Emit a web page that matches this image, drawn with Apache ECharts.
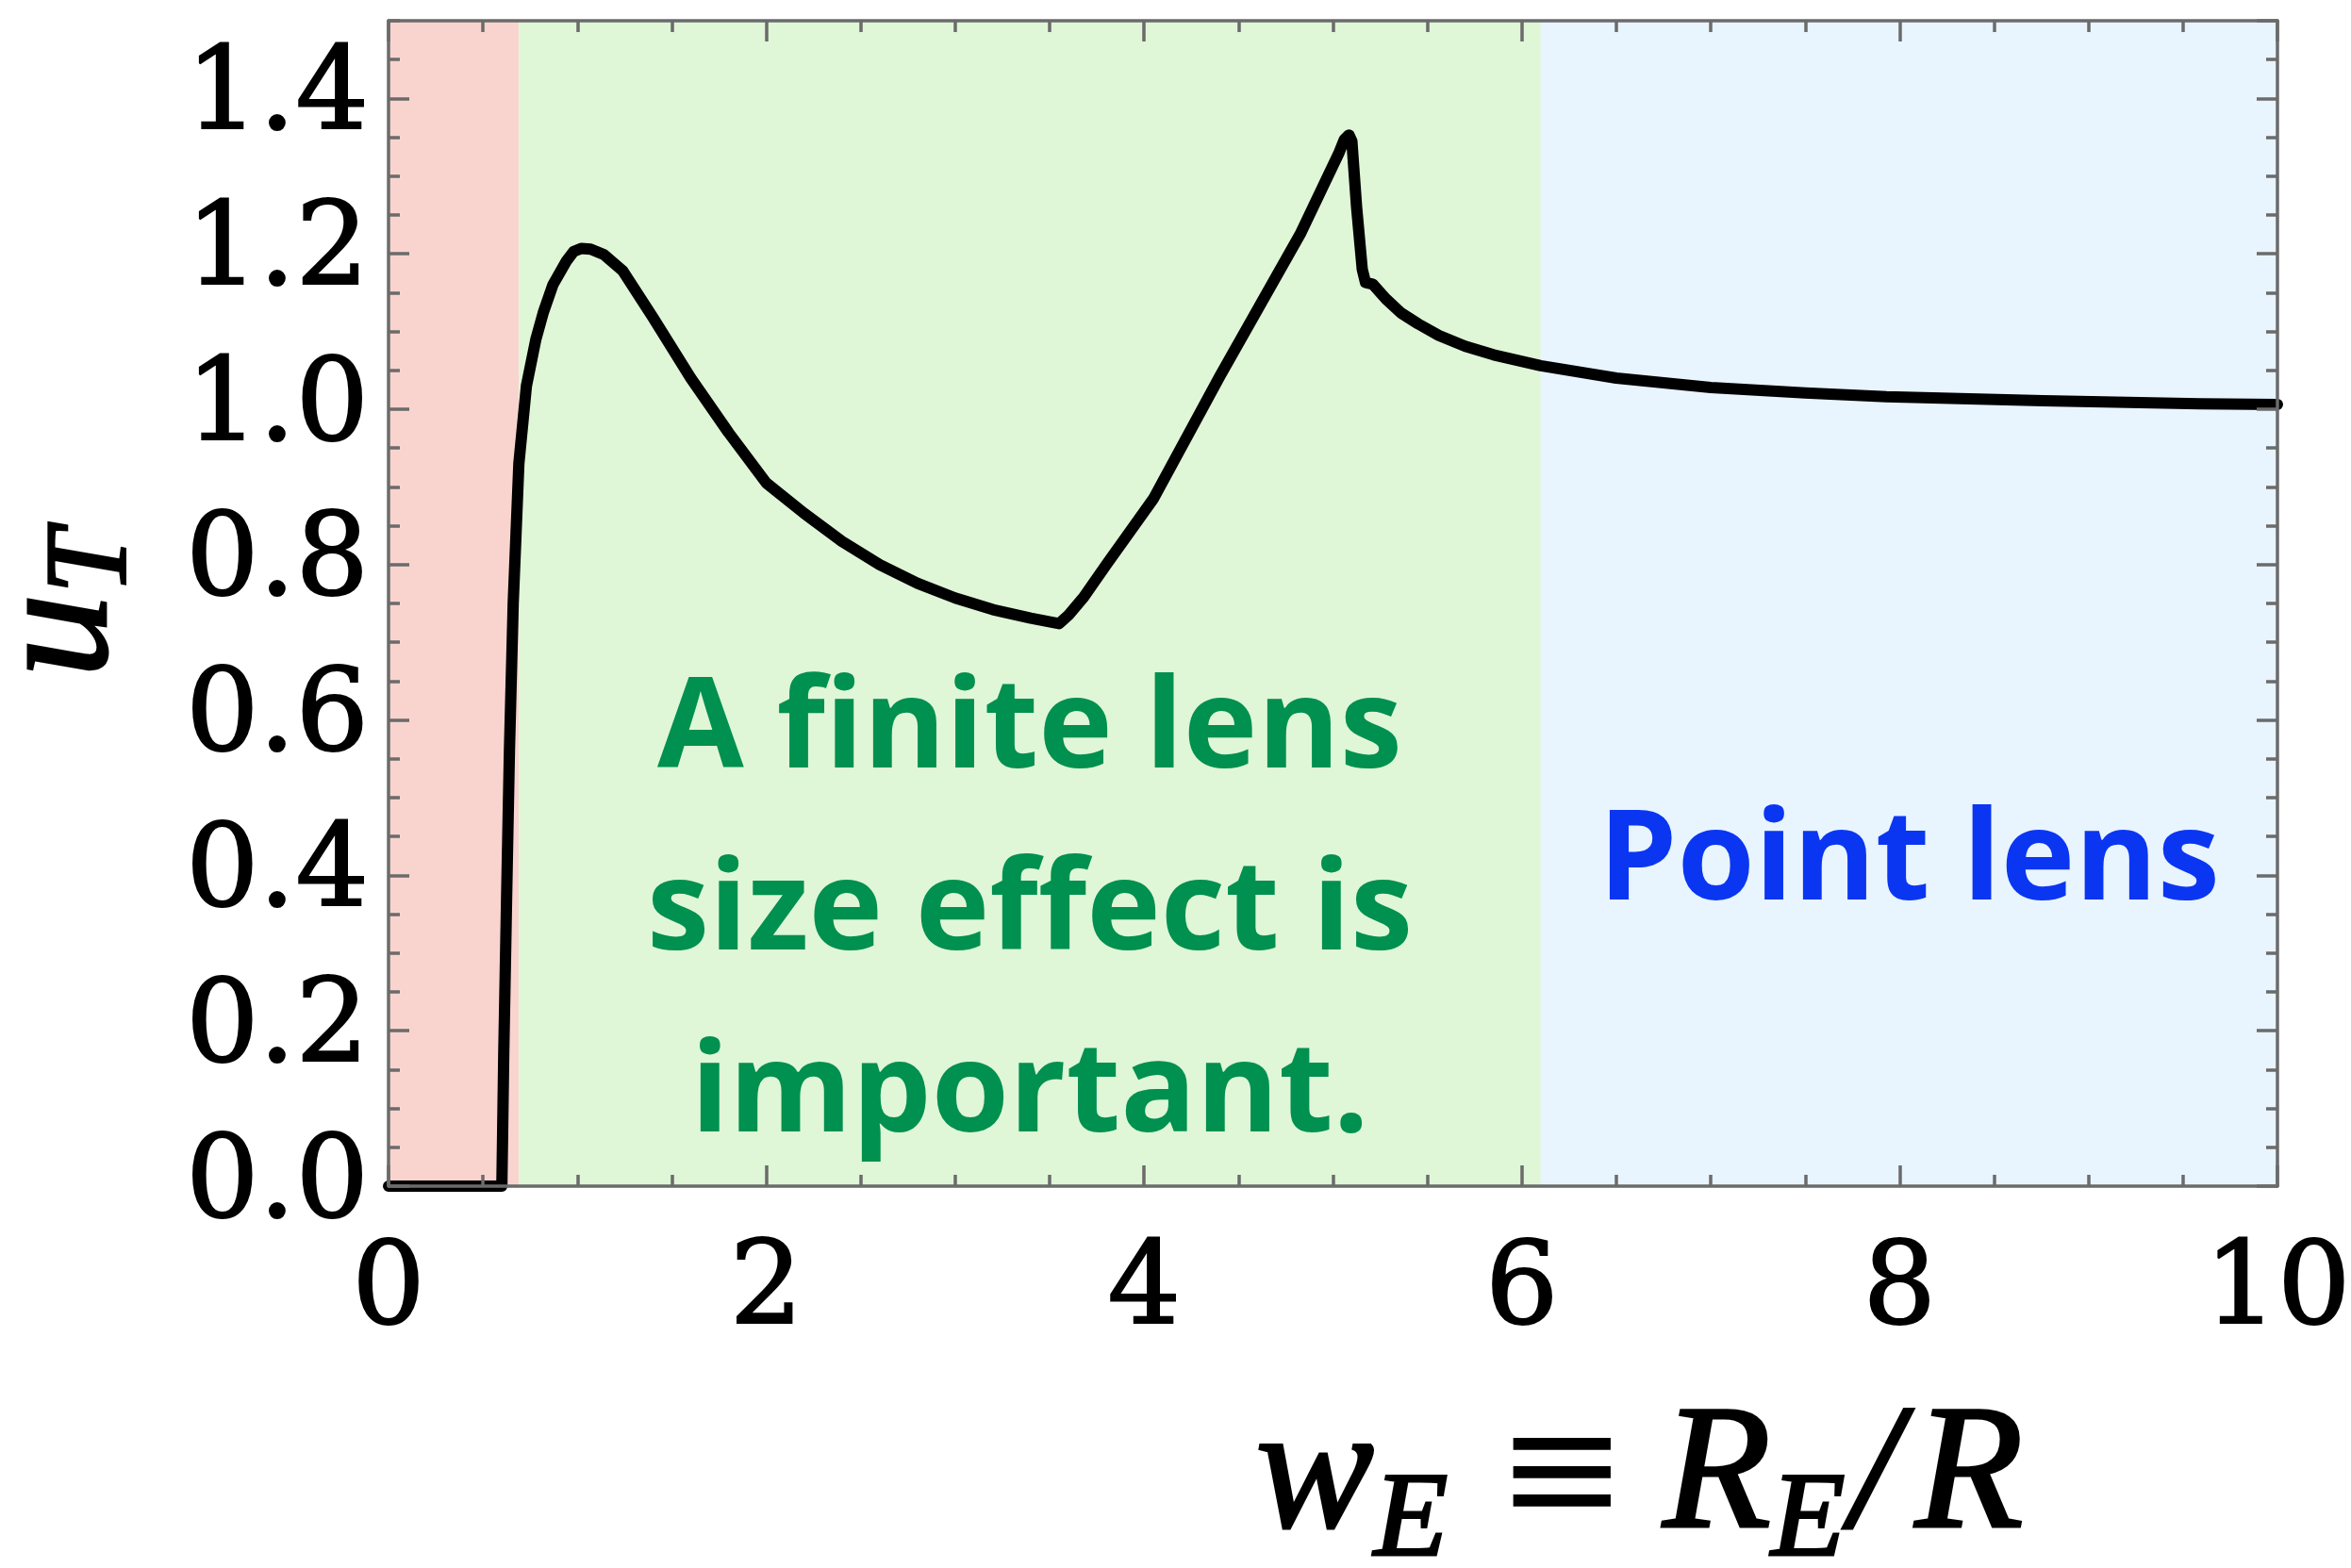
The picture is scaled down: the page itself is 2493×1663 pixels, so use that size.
<!DOCTYPE html>
<html>
<head>
<meta charset="utf-8">
<script src="https://cdn.jsdelivr.net/npm/echarts@6/dist/echarts.min.js"></script>
<style>
html,body{margin:0;padding:0;background:#fff;}
#main{width:2493px;height:1663px;}
</style>
</head>
<body>
<div id="main"></div>
<script>
// 曲线数据 w_E -> u_T
var wE = [0, 0.58, 0.60, 0.61, 0.625, 0.64, 0.66, 0.69, 0.73, 0.78, 0.82, 0.87, 0.94, 0.98, 1.02, 1.07, 1.14, 1.24, 1.40, 1.60, 1.80, 2.00, 2.20, 2.40, 2.60, 2.80, 3.00, 3.20, 3.40, 3.51, 3.55, 3.60, 3.68, 3.80, 4.05, 4.40, 4.83, 5.03, 5.06, 5.085, 5.10, 5.125, 5.155, 5.172, 5.21, 5.28, 5.36, 5.45, 5.56, 5.70, 5.85, 6.10, 6.50, 7.00, 7.50, 7.93, 8.76, 9.59, 10.0];
var uT = [0, 0, 0, 0.17, 0.37, 0.56, 0.75, 0.93, 1.03, 1.09, 1.125, 1.16, 1.19, 1.203, 1.207, 1.206, 1.199, 1.178, 1.118, 1.04, 0.97, 0.905, 0.866, 0.83, 0.80, 0.776, 0.757, 0.742, 0.731, 0.726, 0.724, 0.735, 0.758, 0.80, 0.885, 1.042, 1.227, 1.329, 1.347, 1.353, 1.345, 1.26, 1.18, 1.163, 1.161, 1.142, 1.124, 1.110, 1.095, 1.081, 1.070, 1.056, 1.04, 1.028, 1.021, 1.016, 1.011, 1.007, 1.006];

// 区域
var regionNames = ['', 'A finite lens\nsize effect is\nimportant.', 'Point lens'];
var regionBounds = [[0, 0.69], [0.69, 6.1], [6.1, 10]];
var regionColors = ['#f9d4cf', '#dff6d7', '#e8f4fe'];
var regionTextColors = ['#000', '#00904f', '#0a36f2'];
var regionOffsets = [[0, 0], [0, 329], [0, 276]];

var axisColor = '#6b6b6b';
var tickFont = {fontFamily: 'DejaVu Serif', fontSize: 122, color: '#000', textBorderColor: '#000', textBorderWidth: 2};

var chart = echarts.init(document.getElementById('main'));

function frameAxis(pos, extra) {
	var a = {
		type: 'value',
		position: pos,
		z: 10,
		splitLine: {show: false},
		axisLine: {show: true, onZero: false, lineStyle: {color: axisColor, width: 3.5}},
		axisTick: {show: true, inside: true, length: 22, lineStyle: {color: axisColor, width: 3.5}},
		axisLabel: {show: false}
	};
	for (var k in extra) a[k] = extra[k];
	return a;
}

var markData = regionBounds.map(function (b, i) {
	return [{
		xAxis: b[0],
		itemStyle: {color: regionColors[i]},
		label: {
			show: regionNames[i] !== '',
			formatter: regionNames[i],
			position: 'inside',
			offset: regionOffsets[i],
			fontFamily: 'Open Sans',
			fontWeight: 'bold',
			fontSize: 133,
			lineHeight: 193,
			color: regionTextColors[i],
			align: 'center'
		}
	}, {xAxis: b[1]}];
});

// 轴标题字体(斜体衬线, 略加粗)
function tf(size, extra) {
	var o = {fontFamily: 'Liberation Serif', fontStyle: 'italic', color: '#000', fontSize: size,
		textBorderColor: '#000', textBorderWidth: 3};
	for (var k in extra) o[k] = extra[k];
	return o;
}

var option = {
	animation: false,
	grid: {left: 412, right: 78, top: 22, bottom: 405, containLabel: false, outerBoundsMode: 'none'},
	xAxis: [
		frameAxis('bottom', {
			min: 0, max: 10, interval: 2,
			minorTick: {show: true, splitNumber: 4, length: 12, lineStyle: {color: axisColor, width: 3.5}},
			minorSplitLine: {show: false},
			axisLabel: {show: true, margin: 52, fontFamily: tickFont.fontFamily, fontSize: tickFont.fontSize, color: '#000',
				textBorderColor: tickFont.textBorderColor, textBorderWidth: tickFont.textBorderWidth},
			name: '{w|w}{s|E}{eq|≡}{w|R}{s|E}{sl|/}{w|R}',
			nameLocation: 'middle',
			nameGap: 203,
			nameTextStyle: {
				padding: [0, 0, 0, 650],
				rich: {
					w: tf(188),
					s: tf(128, {padding: [90, 0, 0, 0]}),
					eq: {fontFamily: 'DejaVu Serif', fontSize: 165, color: '#000', padding: [0, 38, 0, 52]},
					sl: tf(188, {padding: [0, 16, 0, 6]})
				}
			}
		}),
		frameAxis('top', {
			min: 0, max: 10, interval: 2,
			minorTick: {show: true, splitNumber: 4, length: 12, lineStyle: {color: axisColor, width: 3.5}},
			minorSplitLine: {show: false}
		})
	],
	yAxis: [
		frameAxis('left', {
			min: 0, max: 1.5, interval: 0.2,
			axisLabel: {
				show: true, margin: 21, showMaxLabel: false,
				fontFamily: tickFont.fontFamily, fontSize: tickFont.fontSize, color: '#000',
				textBorderColor: tickFont.textBorderColor, textBorderWidth: tickFont.textBorderWidth,
				formatter: function (v) { return v.toFixed(1); }
			},
			name: '{u|u}{t|T}',
			nameLocation: 'middle',
			nameRotate: 90,
			nameGap: 251,
			nameTextStyle: {
				rich: {
					u: tf(178),
					t: tf(122, {padding: [70, 0, 0, 0]})
				}
			}
		}),
		frameAxis('left', {min: 0, max: 1.5, interval: 0.05, axisLine: {show: false, onZero: false},
			axisTick: {show: true, inside: true, length: 12, lineStyle: {color: axisColor, width: 3.5}}}),
		frameAxis('right', {min: 0, max: 1.5, interval: 0.2}),
		frameAxis('right', {min: 0, max: 1.5, interval: 0.05, axisLine: {show: false, onZero: false},
			axisTick: {show: true, inside: true, length: 12, lineStyle: {color: axisColor, width: 3.5}}})
	],
	series: [{
		type: 'line',
		xAxisIndex: 0,
		yAxisIndex: 0,
		data: wE.map(function (x, i) { return [x, uT[i]]; }),
		showSymbol: false,
		smooth: false,
		z: 5,
		lineStyle: {color: '#000', width: 12, cap: 'round', join: 'round'},
		markArea: {
			silent: true,
			data: markData
		}
	}]
};
chart.setOption(option);
</script>
</body>
</html>
